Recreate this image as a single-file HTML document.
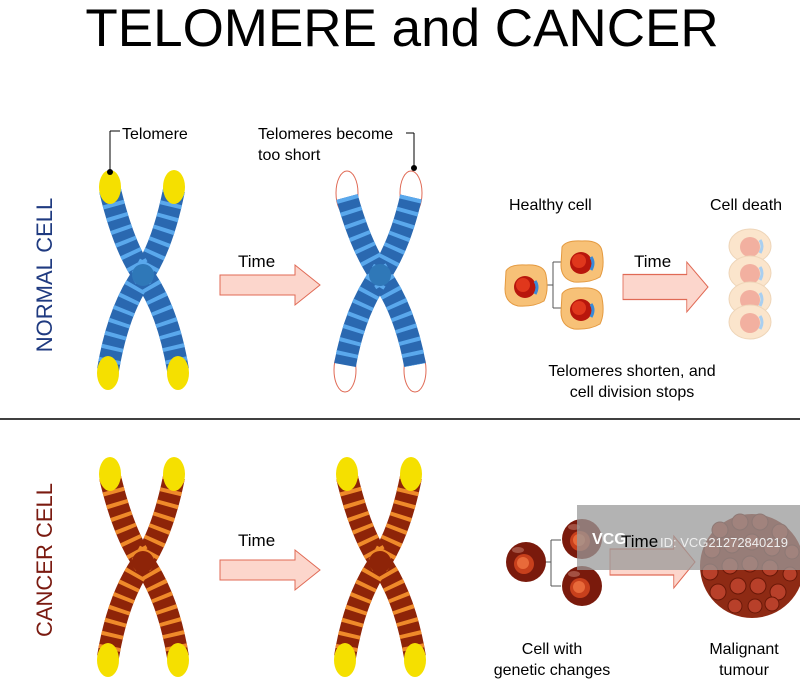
<!DOCTYPE html>
<html><head><meta charset="utf-8"><style>
html,body{margin:0;padding:0;background:#fff}
svg{display:block}
text{font-family:"Liberation Sans",sans-serif}
</style></head><body>
<svg width="800" height="680" viewBox="0 0 800 680" xmlns="http://www.w3.org/2000/svg">
<defs>
<g id="armsB">
  <path d="M-33,-85 Q-20,-30 0,0 Q25,35 35,95" fill="none" stroke-width="22" stroke-linecap="butt"/>
  <path d="M31,-85 Q20,-30 0,0 Q-25,35 -35,95" fill="none" stroke-width="22" stroke-linecap="butt"/>
</g>
<g id="stripes">
  <path d="M-33,-85 Q-20,-30 0,0 Q25,35 35,95" fill="none" stroke-width="22" stroke-dasharray="4 9"/>
  <path d="M31,-85 Q20,-30 0,0 Q-25,35 -35,95" fill="none" stroke-width="22" stroke-dasharray="4 9"/>
</g>
<g id="arrow">
  <path d="M0,10 H75 V0 L100,20 L75,40 V30 H0 Z" fill="#fcd6cc" stroke="#e06a55" stroke-width="1"/>
</g>
<g id="hcell">
  <path d="M-20,-14 Q-16,-21 0,-20 Q18,-21 20,-10 Q23,6 18,16 Q8,22 -8,21 Q-21,18 -21,4 Z" fill="#f7c177" stroke="#e49a40" stroke-width="1"/>
  <circle cx="-1" cy="2" r="11" fill="#b8160c"/>
  <circle cx="-3" cy="0" r="7" fill="#e0371c"/>
  <path d="M9,-4 Q13,2 9,9" stroke="#3a8ad8" stroke-width="3" fill="none"/>
</g>
<g id="dcell">
  <ellipse cx="0" cy="0" rx="21" ry="17" fill="#fbe5cc" stroke="#eed5b8"/>
  <circle cx="0" cy="1" r="10" fill="#f2b0a0"/>
  <path d="M10,-6 Q14,0 10,7" stroke="#a9cff0" stroke-width="3" fill="none"/>
</g>
<g id="ccell">
  <ellipse cx="0" cy="0" rx="20" ry="20" fill="#7a1a0c"/>
  <circle cx="-2" cy="2" r="10" fill="#c8401c"/>
  <circle cx="-3" cy="1" r="6" fill="#e86a3a"/>
  <ellipse cx="-8" cy="-12" rx="6" ry="3" fill="#b56a5a" opacity=".7"/>
</g>
</defs>

<text x="402" y="46" font-size="53" text-anchor="middle" fill="#000">TELOMERE and CANCER</text>

<text transform="translate(52,275) rotate(-90)" font-size="22" text-anchor="middle" fill="#1f3a80">NORMAL CELL</text>
<text transform="translate(52,560) rotate(-90)" font-size="22" text-anchor="middle" fill="#7a1a10">CANCER CELL</text>

<line x1="0" y1="419" x2="800" y2="419" stroke="#000" stroke-width="1.5"/>

<g transform="translate(143,275)">
  <use href="#armsB" stroke="#2a68b0"/>
  <use href="#stripes" stroke="#5aa8ec"/>
  <ellipse cx="-33" cy="-88" rx="11" ry="17" fill="#f5e000"/>
  <ellipse cx="31" cy="-88" rx="11" ry="17" fill="#f5e000"/>
  <ellipse cx="-35" cy="98" rx="11" ry="17" fill="#f5e000"/>
  <ellipse cx="35" cy="98" rx="11" ry="17" fill="#f5e000"/>
  <circle r="11" fill="#2f78b8"/>
</g>
<line x1="110" y1="131" x2="110" y2="172" stroke="#000"/>
<line x1="110" y1="131" x2="120" y2="131" stroke="#000"/>
<circle cx="110" cy="172" r="3" fill="#000"/>
<text x="122" y="139" font-size="16">Telomere</text>

<g transform="translate(220,265)"><use href="#arrow"/></g>
<text x="238" y="267" font-size="17">Time</text>

<g transform="translate(380,275)">
  <ellipse cx="-33" cy="-82" rx="11" ry="22" fill="#fff" stroke="#e06a55"/>
  <ellipse cx="31" cy="-82" rx="11" ry="22" fill="#fff" stroke="#e06a55"/>
  <ellipse cx="-35" cy="95" rx="11" ry="22" fill="#fff" stroke="#e06a55"/>
  <ellipse cx="35" cy="95" rx="11" ry="22" fill="#fff" stroke="#e06a55"/>
  <path d="M-33,-78 Q-20,-30 0,0 Q25,35 35,90" fill="none" stroke="#2a68b0" stroke-width="22"/>
  <path d="M31,-78 Q20,-30 0,0 Q-25,35 -35,90" fill="none" stroke="#2a68b0" stroke-width="22"/>
  <path d="M-33,-78 Q-20,-30 0,0 Q25,35 35,90" fill="none" stroke="#5aa8ec" stroke-width="22" stroke-dasharray="4 9"/>
  <path d="M31,-78 Q20,-30 0,0 Q-25,35 -35,90" fill="none" stroke="#5aa8ec" stroke-width="22" stroke-dasharray="4 9"/>
  <circle r="11" fill="#2f78b8"/>
</g>
<text x="258" y="139" font-size="16">Telomeres become</text>
<text x="258" y="160" font-size="16">too short</text>
<line x1="406" y1="133" x2="414" y2="133" stroke="#000"/>
<line x1="414" y1="133" x2="414" y2="168" stroke="#000"/>
<circle cx="414" cy="168" r="3" fill="#000"/>

<text x="509" y="210" font-size="16">Healthy cell</text>
<text x="710" y="210" font-size="16">Cell death</text>
<path d="M546,285 H553 M553,262 V308 M553,262 H562 M553,308 H562" stroke="#555" fill="none"/>
<use href="#hcell" x="526" y="285"/>
<use href="#hcell" x="582" y="261"/>
<use href="#hcell" x="582" y="308"/>
<g transform="translate(623,262) scale(0.85,1.25)"><use href="#arrow"/></g>
<text x="634" y="267" font-size="17">Time</text>
<use href="#dcell" x="750" y="246"/>
<use href="#dcell" x="750" y="273"/>
<use href="#dcell" x="750" y="299"/>
<use href="#dcell" x="750" y="322"/>
<text x="632" y="376" font-size="16" text-anchor="middle">Telomeres shorten, and</text>
<text x="632" y="397" font-size="16" text-anchor="middle">cell division stops</text>

<g transform="translate(143,562)">
  <use href="#armsB" stroke="#8e2408"/>
  <use href="#stripes" stroke="#ef8a2a"/>
  <ellipse cx="-33" cy="-88" rx="11" ry="17" fill="#f5e000"/>
  <ellipse cx="31" cy="-88" rx="11" ry="17" fill="#f5e000"/>
  <ellipse cx="-35" cy="98" rx="11" ry="17" fill="#f5e000"/>
  <ellipse cx="35" cy="98" rx="11" ry="17" fill="#f5e000"/>
  <circle r="11" fill="#8e2408"/>
</g>
<g transform="translate(380,562)">
  <use href="#armsB" stroke="#8e2408"/>
  <use href="#stripes" stroke="#ef8a2a"/>
  <ellipse cx="-33" cy="-88" rx="11" ry="17" fill="#f5e000"/>
  <ellipse cx="31" cy="-88" rx="11" ry="17" fill="#f5e000"/>
  <ellipse cx="-35" cy="98" rx="11" ry="17" fill="#f5e000"/>
  <ellipse cx="35" cy="98" rx="11" ry="17" fill="#f5e000"/>
  <circle r="11" fill="#8e2408"/>
</g>
<g transform="translate(220,550)"><use href="#arrow"/></g>
<text x="238" y="546" font-size="17">Time</text>

<path d="M545,562 H551 M551,540 V586 M551,540 H561 M551,586 H561" stroke="#555" fill="none"/>
<use href="#ccell" x="526" y="562"/>
<use href="#ccell" x="582" y="539"/>
<use href="#ccell" x="582" y="586"/>
<g transform="translate(610,536) scale(0.85,1.3)"><use href="#arrow"/></g>
<ellipse cx="752" cy="566" rx="52" ry="52" fill="#8e2a14"/>
<g fill="#b8402a" stroke="#6a1808" stroke-width="1">
<circle cx="720" cy="530" r="8"/><circle cx="740" cy="522" r="8"/><circle cx="760" cy="522" r="8"/><circle cx="780" cy="532" r="8"/>
<circle cx="712" cy="550" r="8"/><circle cx="732" cy="545" r="8"/><circle cx="752" cy="542" r="8"/><circle cx="772" cy="548" r="8"/><circle cx="792" cy="552" r="7"/>
<circle cx="710" cy="572" r="8"/><circle cx="730" cy="566" r="8"/><circle cx="750" cy="564" r="8"/><circle cx="770" cy="568" r="8"/><circle cx="790" cy="574" r="7"/>
<circle cx="718" cy="592" r="8"/><circle cx="738" cy="586" r="8"/><circle cx="758" cy="586" r="8"/><circle cx="778" cy="592" r="8"/>
<circle cx="735" cy="606" r="7"/><circle cx="755" cy="606" r="7"/><circle cx="772" cy="604" r="7"/>
</g>
<rect x="577" y="505" width="223" height="65" fill="#999" opacity="0.75"/>
<text x="592" y="544" font-size="16" fill="#fff" font-weight="bold">VCG</text>
<text x="621" y="547" font-size="17" fill="#000">Time</text>
<text x="660" y="547" font-size="13" fill="#eee">ID: VCG21272840219</text>
<text x="552" y="654" font-size="16" text-anchor="middle">Cell with</text>
<text x="552" y="675" font-size="16" text-anchor="middle">genetic changes</text>
<text x="744" y="654" font-size="16" text-anchor="middle">Malignant</text>
<text x="744" y="675" font-size="16" text-anchor="middle">tumour</text>
</svg>
</body></html>
